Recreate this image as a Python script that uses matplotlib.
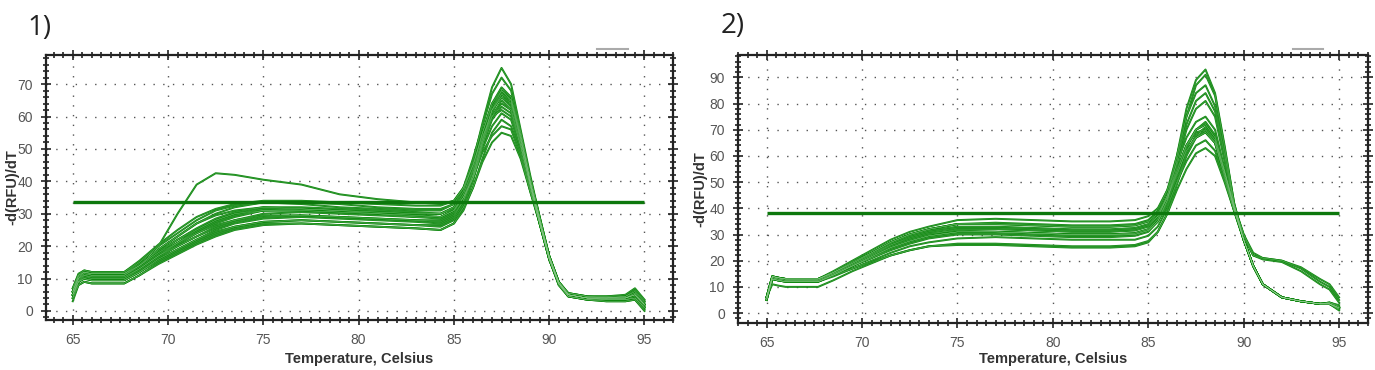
import matplotlib
matplotlib.use('Agg')
import matplotlib.pyplot as plt
from matplotlib.ticker import MultipleLocator
from matplotlib.lines import Line2D

plt.rcParams['font.family'] = ['Liberation Sans Narrow', 'Liberation Sans', 'DejaVu Sans']

# ---------------- data ----------------
temps = [65, 65.3, 65.6, 66, 67, 67.7, 68.5, 69.5, 70.5, 71.5, 72.5, 73.5, 75, 77, 79, 81,
         83, 84.3, 85, 85.5, 86, 86.5, 87, 87.5, 88, 88.5, 89, 89.5, 90, 90.5, 91, 92,
         93, 94, 94.5, 95]

# panel 1: melt curves, -d(RFU)/dT
curves_1 = [
    [5, 10, 12, 11.5, 11.5, 11.5, 14, 19, 23, 27, 29.5, 31, 32, 31.5, 31, 30.5, 30, 30, 32, 37, 46, 58, 69, 75, 70, 56, 42, 29, 17, 9, 5.5, 4.5, 4, 4, 5, 2],
    [6, 11, 12.5, 12, 12, 12, 15, 20, 24, 28, 31, 32.5, 33.5, 33, 32, 31.5, 31, 31, 33, 38, 47, 57, 67, 72, 68, 55, 41, 29, 17, 9, 5.5, 4.5, 4.5, 4.5, 6, 3],
    [4, 9, 11, 10.5, 10.5, 10.5, 13, 17, 21, 25, 28, 30, 31.5, 31.5, 31, 30, 29.5, 29, 31, 36, 44, 55, 64, 69, 66, 54, 40, 28, 17, 9, 5, 4, 4, 4, 5, 1.5],
    [7, 11, 12, 11, 11, 11, 14, 19, 23, 27, 30, 32, 33.5, 33.5, 33, 32, 31.5, 31.5, 33, 37, 45, 55, 64, 68, 65, 53, 40, 28, 16, 8.5, 5, 4, 4, 4.5, 6.5, 3],
    [5, 9, 10, 9.5, 9.5, 9.5, 12, 16, 19, 22, 25, 27, 28.5, 29, 28.5, 28, 27.5, 27, 29, 34, 42, 53, 62, 67, 64, 53, 40, 28, 17, 9, 5, 4, 3.5, 3.5, 4, 1],
    [6, 10, 11.5, 11, 11, 11, 14, 18, 22, 25, 28, 30, 31, 31, 30.5, 30, 29, 28.5, 30.5, 35, 43, 53, 62, 66, 63, 52, 39, 27, 16, 8.5, 5, 4, 4, 4, 5, 2],
    [3, 8, 9, 8.5, 8.5, 8.5, 11, 15, 18, 21, 23.5, 25.5, 27, 27, 26.5, 26, 25.5, 25, 27, 32, 40, 51, 60, 65, 62, 51, 39, 27, 16, 8, 4.5, 3.5, 3, 3, 3.5, 0.5],
    [6, 11, 12, 11.5, 11.5, 11.5, 14, 18, 21, 24, 26.5, 28, 29.5, 29.5, 29, 28.5, 28, 28, 30, 34, 41, 51, 59, 63, 61, 51, 39, 27, 16, 8.5, 5, 4, 4, 4.5, 6, 2.5],
    [5, 9.5, 11, 10, 10, 10, 13, 17, 20, 23, 26, 28, 30, 30.5, 30, 29.5, 29, 29, 31, 35, 41, 50, 57, 61, 59, 50, 38, 27, 16, 8.5, 5, 4, 4, 4, 5, 2],
    [4, 8, 9, 8.5, 8.5, 8.5, 11, 14.5, 17.5, 20.5, 23, 25, 26.5, 27, 26.5, 26, 25.5, 25, 27, 31, 38, 47, 55, 59, 57, 49, 38, 27, 16, 8, 4.5, 3.5, 3, 3, 3.5, 0],
    [6, 10, 11, 10.5, 10.5, 10.5, 13, 17, 20.5, 24, 27, 29, 31, 31.5, 31, 30.5, 30, 30, 31.5, 35, 41, 49, 54, 57, 56, 48, 37, 27, 16.5, 9, 5, 4, 4, 4, 5.5, 2],
    [5, 9, 10, 9.5, 9.5, 9.5, 12, 15.5, 18.5, 21.5, 24, 26, 27.5, 28, 27.5, 27, 26.5, 26, 28, 32, 38, 46, 52, 55, 54, 47, 37, 27, 16, 8.5, 4.5, 3.5, 3.5, 3.5, 4, 1],
    [7, 11.5, 12.5, 12, 12, 12, 15.5, 20.5, 25, 29, 31.5, 33, 34, 34, 33.5, 33, 32.5, 32.5, 34, 38, 45, 55, 63, 68, 66, 55, 41, 29, 17, 9, 5.5, 4.5, 4.5, 5, 7, 3.5],
    [4, 9, 10.5, 10, 10, 10, 12.5, 16.5, 20, 23, 25.5, 27.5, 29, 29.5, 29, 28.5, 28, 27.5, 29.5, 34, 42, 52, 61, 67, 65, 54, 40, 28, 17, 8.5, 5, 4, 3.5, 3.5, 4.5, 1.5],
    [5, 10, 11.5, 11, 11, 11, 13.5, 17.5, 21, 24.5, 27.5, 29.5, 31, 31, 30.5, 30, 29.5, 29, 31, 35, 42, 52, 60, 64, 62, 52, 39, 28, 16.5, 8.5, 5, 4, 4, 4, 5, 2],
    [6, 10.5, 12, 11.5, 11.5, 11.5, 14.5, 18.5, 22, 25.5, 28.5, 30.5, 32, 32, 31.5, 31, 30.5, 30, 32, 36, 43.5, 53.5, 62, 66, 64, 53, 40, 28, 16.5, 8.5, 5, 4, 4, 4, 5.5, 2],
    [5, 9, 10, 9.5, 9.5, 9.5, 12, 16, 19, 22, 24.5, 26, 27.5, 28, 27.5, 27, 26.5, 26.5, 28.5, 33, 41, 52, 62, 68, 65, 54, 40, 28, 16.5, 8.5, 4.5, 3.5, 3.5, 3.5, 4, 1],
    [6, 10.5, 12, 11.5, 11.5, 11.5, 15, 20, 30, 39, 42.5, 42, 40.5, 39, 36, 34.5, 33.5, 33, 34, 38, 45, 54, 60, 62, 60, 51, 39, 28, 16.5, 8.5, 5, 4, 4, 4, 5, 2],
]
threshold_1 = 33.5

# panel 2
curves_2 = [
    [6, 14, 13.5, 13, 13, 13, 15.5, 19, 22.5, 26, 28.5, 30.5, 31.5, 31, 30.5, 30, 30, 30.5, 32, 36, 45, 60, 78, 89, 93, 84, 64, 42, 28, 18, 11, 6, 4.5, 3.5, 3.5, 2],
    [5, 13, 12.5, 12, 12, 12, 14.5, 18, 21.5, 25, 27.5, 29.5, 31, 31, 30.5, 30, 30, 30, 31.5, 35, 43, 58, 75, 87, 91, 83, 63, 42, 28, 18, 11, 6, 4.5, 3.5, 3.5, 1.5],
    [6, 14, 13.5, 13, 13, 13, 15.5, 19.5, 23, 27, 30, 32, 34, 34.5, 34, 33.5, 33.5, 34, 35.5, 39, 47, 60, 75, 84, 87, 79, 61, 41, 28, 18, 11, 6, 4.5, 3.5, 4, 2.5],
    [5, 13.5, 13, 12.5, 12.5, 12.5, 15, 18.5, 22, 25.5, 28, 30, 32, 32, 31.5, 31, 31, 31.5, 33, 37, 45, 58, 72, 81, 84, 77, 60, 41, 28, 18, 11, 6, 4.5, 3.5, 3.5, 2],
    [6, 14, 13.5, 13, 13, 13, 15, 18, 21, 24, 26.5, 28.5, 30, 30, 29.5, 29, 29, 29.5, 31, 35, 43, 56, 70, 78, 81, 75, 58, 40, 28, 18, 11, 6, 4.5, 3.5, 3.5, 2],
    [6, 14, 13.5, 13, 13, 13, 16, 20, 24, 28, 31, 33, 35.5, 36, 35.5, 35, 35, 35.5, 37, 40, 47, 57, 67, 73, 75, 70, 55, 40, 28, 18, 11, 6, 4.5, 3.5, 4, 3],
    [5, 13, 12.5, 12, 12, 12, 14.5, 18, 21.5, 25, 27.5, 29.5, 31, 31, 30.5, 30, 30, 30, 31.5, 35, 42, 52, 63, 70, 73, 68, 54, 40, 28, 18, 11, 6, 4.5, 3.5, 3.5, 2],
    [6, 14, 13.5, 13, 13, 13, 15.5, 19, 22.5, 26.5, 29.5, 31.5, 33, 33, 32.5, 32, 32, 32.5, 34, 37, 44, 54, 64, 70, 72, 67, 54, 40, 28, 18, 11, 6, 4.5, 3.5, 3.5, 2],
    [5, 13, 12.5, 12, 12, 12, 14, 17, 20, 23, 25.5, 27, 28.5, 29, 28.5, 28, 28, 28, 29.5, 33, 40, 50, 61, 68, 71, 66, 53, 40, 28, 18, 11, 6, 4.5, 3.5, 3.5, 1.5],
    [6, 14, 13.5, 13, 13, 13, 15.5, 19.5, 23, 27, 30, 32, 34, 34, 33.5, 33, 33, 33.5, 35, 38, 44, 53, 62, 67, 69, 65, 52, 40, 28, 18, 11, 6, 4.5, 3.5, 4, 2.5],
    [6, 13.5, 13, 12.5, 12.5, 12.5, 14.5, 17, 19.5, 22, 24, 25.5, 26, 26, 25.5, 25, 25, 25.5, 27, 31, 38, 49, 60, 67, 70, 65, 52, 39, 28, 18, 11, 6, 4.5, 3.5, 3.5, 1.5],
    [5, 13, 12.5, 12, 12, 12, 14.5, 18, 21, 24.5, 27, 29, 30.5, 30.5, 30, 29.5, 29.5, 30, 31.5, 35, 41, 50, 58, 64, 66, 62, 51, 39, 28, 18, 11, 6, 4.5, 3.5, 3.5, 2],
    [6, 11, 10.5, 10, 10, 10, 12.5, 16, 19, 22, 24, 25.5, 26.5, 26.5, 26, 25.5, 25.5, 26, 27.5, 31, 38, 47, 55, 61, 63, 60, 50, 39, 28, 18, 11, 6, 4.5, 3.5, 3.5, 1],
    [6, 14, 13.5, 13, 13, 13, 15.5, 19, 23, 27, 30, 32, 34, 34, 33.5, 33, 33, 33.5, 35, 38, 45, 55, 64, 69, 70, 66, 54, 41, 30, 23, 21, 20, 17, 12, 10, 5],
    [5, 13.5, 13, 12.5, 12.5, 12.5, 15, 18.5, 22, 26, 29, 31, 32.5, 32.5, 32, 31.5, 31.5, 32, 33.5, 37, 44, 54, 64, 70, 72, 67, 54, 41, 30, 22, 20.5, 19.5, 16, 11, 9, 4],
    [6, 13, 12.5, 12, 12, 12, 14.5, 18, 21.5, 25, 27.5, 29.5, 31, 31, 30.5, 30, 30, 30.5, 32, 36, 43, 53, 62, 67, 69, 65, 53, 40, 29, 22, 21, 20, 17.5, 13, 11, 6],
]
threshold_2 = 38.2

panel_titles = ['1)', '2)']
x_label = 'Temperature, Celsius'
y_label = '-d(RFU)/dT'

# ---------------- figure ----------------
fig = plt.figure(figsize=(13.75, 3.7), dpi=100)
ax1 = fig.add_axes([0.0335, 0.135, 0.456, 0.7165])
ax2 = fig.add_axes([0.5367, 0.127, 0.458, 0.724])

curve_col = '#108810'
curve_hi = '#8fcc8f'
thr_col = '#0c780c'

settings = [
    (ax1, curves_1, threshold_1, (63.6, 96.5), (-2.8, 79), 70, -0.054, -0.147),
    (ax2, curves_2, threshold_2, (63.5, 96.5), (-3.8, 98.5), 90, -0.060, -0.134),
]

for ax, curves, thr, xl, yl, ymax_tick, ylab_x, xlab_y in settings:
    for c in curves:
        ax.plot(temps, c, color=curve_col, lw=1.4)
    # faint light core, like the instrument's rendering
    for c in curves:
        ax.plot(temps, c, color=curve_hi, lw=0.3, alpha=0.5)
    ax.hlines(thr, 65, 95, color=thr_col, lw=2.4, zorder=3)

    ax.set_xlim(*xl)
    ax.set_ylim(*yl)
    ax.set_xticks(range(65, 96, 5))
    ax.set_yticks(range(0, ymax_tick + 1, 10))
    ax.xaxis.set_minor_locator(MultipleLocator(0.5))
    ax.yaxis.set_minor_locator(MultipleLocator(2))
    ax.tick_params(which='both', direction='inout', top=True, right=True,
                   width=1.2, color='#222222')
    ax.tick_params(which='major', length=7, labelsize=10, labelcolor='#555555', pad=6)
    ax.tick_params(which='minor', length=4)
    ax.grid(True, which='major', color='#555555', lw=1.0, linestyle=(0, (1, 6)))
    for sp in ax.spines.values():
        sp.set_linewidth(1.6)
        sp.set_color('#222222')
    ax.set_xlabel(x_label, fontsize=10.5, fontweight='bold', color='#333333', va='center')
    ax.set_ylabel(y_label, fontsize=10.5, fontweight='bold', color='#333333', va='center')
    ax.xaxis.set_label_coords(0.5, xlab_y)
    ax.yaxis.set_label_coords(ylab_x, 0.5)

# panel labels
fig.text(0.020, 0.925, panel_titles[0], fontsize=20, family=['Open Sans', 'DejaVu Sans'],
         color='#222222', va='center')
fig.text(0.524, 0.93, panel_titles[1], fontsize=20, family=['Open Sans', 'DejaVu Sans'],
         color='#222222', va='center')

# small gray marks above top-right of each plot
for x0, x1 in [(597, 628), (1293, 1323)]:
    fig.add_artist(Line2D([x0 / 1375, x1 / 1375], [1 - 49 / 370] * 2,
                          color='#aaaaaa', lw=1.5))

fig.savefig('out.png', dpi=100, facecolor='white')
